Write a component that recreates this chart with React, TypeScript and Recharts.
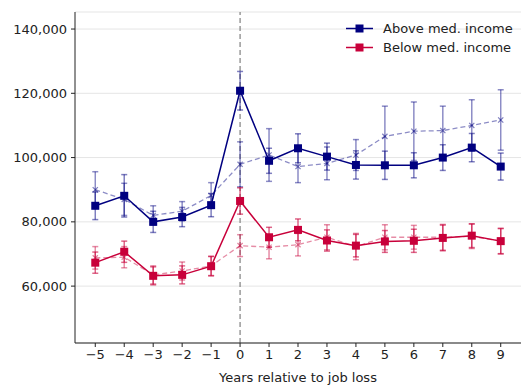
import React from 'react';
import { ComposedChart, Line, XAxis, YAxis, CartesianGrid, ReferenceLine, ErrorBar, Legend } from 'recharts';

// years around the job loss event
const years = [-5, -4, -3, -2, -1, 0, 1, 2, 3, 4, 5, 6, 7, 8, 9];

// above median income: main estimate and comparison group (dashed)
const aboveIncome = [85000, 88100, 80000, 81500, 85200, 120800, 99000, 102900, 100300, 97700, 97600, 97600, 100000, 103100, 97200];
const aboveIncomeErr = [4300, 6600, 3300, 3000, 3600, 6000, 3900, 4500, 4200, 4400, 4400, 3900, 4000, 4400, 4200];
const aboveCompare = [90000, 87000, 82000, 83300, 88200, 97900, 100800, 97200, 98200, 100800, 106600, 108200, 108400, 110000, 111700];
const aboveCompareErr = [5600, 5000, 3000, 3000, 4000, 7000, 8200, 5000, 5100, 4800, 9400, 9100, 7600, 8000, 9400];

// below median income
const belowIncome = [67300, 70700, 63200, 63500, 66200, 86500, 75200, 77500, 74200, 72600, 73900, 74100, 75000, 75700, 74000];
const belowIncomeErr = [3300, 3300, 2800, 2800, 3000, 4100, 3100, 3400, 3300, 3500, 3400, 3600, 4000, 3700, 3900];
const belowCompare = [68800, 69000, 63500, 64700, 66300, 72600, 72100, 72900, 75200, 72300, 75200, 75200, 75200, 75500, 74000];
const belowCompareErr = [3500, 3300, 2800, 2800, 3000, 3400, 3600, 3500, 3900, 4100, 3900, 3700, 4000, 3800, 4000];

const yTicks = [60000, 80000, 100000, 120000, 140000];

const NAVY = '#000080';
const CRIMSON = '#c8003a';
const FONT = '"DejaVu Sans", sans-serif';

const rows = years.map((year, i) => ({
  year,
  above: aboveIncome[i],
  aboveErr: aboveIncomeErr[i],
  aboveCmp: aboveCompare[i],
  aboveCmpErr: aboveCompareErr[i],
  below: belowIncome[i],
  belowErr: belowIncomeErr[i],
  belowCmp: belowCompare[i],
  belowCmpErr: belowCompareErr[i],
}));

const squareDot = (color: string) => (props: any) => {
  const { cx, cy, index } = props;
  if (cx == null || cy == null) return <g key={`sq-${index}`} />;
  return <rect key={`sq-${index}`} x={cx - 4} y={cy - 4} width={8} height={8} fill={color} />;
};

const crossDot = (color: string) => (props: any) => {
  const { cx, cy, index } = props;
  if (cx == null || cy == null) return <g key={`x-${index}`} />;
  const r = 2.6;
  return (
    <path
      key={`x-${index}`}
      d={`M${cx - r},${cy - r}L${cx + r},${cy + r}M${cx - r},${cy + r}L${cx + r},${cy - r}`}
      stroke={color}
      strokeOpacity={0.5}
      strokeWidth={1.2}
      fill="none"
    />
  );
};

const legendItems = [
  { label: 'Above med. income', color: NAVY },
  { label: 'Below med. income', color: CRIMSON },
];

const renderLegend = () => (
  <div style={{ fontFamily: FONT, fontSize: 13, color: '#222' }}>
    {legendItems.map((item) => (
      <div key={item.label} style={{ display: 'flex', alignItems: 'center', height: 19 }}>
        <svg width={30} height={19} style={{ marginRight: 9 }}>
          <line x1={2} y1={9.5} x2={29} y2={9.5} stroke={item.color} strokeWidth={1.5} />
          <rect x={11.5} y={5.5} width={8} height={8} fill={item.color} />
        </svg>
        <span>{item.label}</span>
      </div>
    ))}
  </div>
);

const formatYear = (v: number) => (v < 0 ? `\u2212${Math.abs(v)}` : `${v}`);

export default function App() {
  return (
    <div style={{ position: 'absolute', left: 0, top: 0 }}>
      <ComposedChart width={521} height={385} data={rows} margin={{ top: 12, right: 0, bottom: 0, left: 0 }}>
        <CartesianGrid horizontal vertical={false} stroke="#e5e5e5" />
        <XAxis
          dataKey="year"
          type="number"
          domain={[-5.7, 9.7]}
          ticks={years}
          allowDataOverflow
          height={42}
          tickFormatter={formatYear}
          tickSize={4}
          tickMargin={3}
          axisLine={{ stroke: '#222' }}
          tickLine={{ stroke: '#222' }}
          tick={{ fill: '#222', fontSize: 13, fontFamily: FONT }}
          label={{ value: 'Years relative to job loss', position: 'insideBottom', offset: 3, fill: '#222', fontSize: 13, fontFamily: FONT }}
        />
        <YAxis
          type="number"
          domain={[42300, 145300]}
          ticks={yTicks}
          allowDataOverflow
          width={75}
          tickFormatter={(v: number) => v.toLocaleString('en-US')}
          tickSize={4}
          tickMargin={4}
          axisLine={{ stroke: '#222' }}
          tickLine={{ stroke: '#222' }}
          tick={{ fill: '#222', fontSize: 13, fontFamily: FONT }}
        />
        <ReferenceLine x={0} stroke="#808080" strokeDasharray="5 3" strokeWidth={1.2} />

        <Line dataKey="aboveCmp" stroke={NAVY} strokeOpacity={0.45} strokeWidth={1.3} strokeDasharray="5 3" dot={crossDot(NAVY)} activeDot={false} isAnimationActive={false}>
          <ErrorBar dataKey="aboveCmpErr" direction="y" width={3} stroke={NAVY} strokeOpacity={0.45} strokeWidth={1.5} isAnimationActive={false} />
        </Line>
        <Line dataKey="belowCmp" stroke={CRIMSON} strokeOpacity={0.45} strokeWidth={1.3} strokeDasharray="5 3" dot={crossDot(CRIMSON)} activeDot={false} isAnimationActive={false}>
          <ErrorBar dataKey="belowCmpErr" direction="y" width={3} stroke={CRIMSON} strokeOpacity={0.45} strokeWidth={1.5} isAnimationActive={false} />
        </Line>
        <Line dataKey="above" stroke={NAVY} strokeWidth={1.5} dot={squareDot(NAVY)} activeDot={false} isAnimationActive={false}>
          <ErrorBar dataKey="aboveErr" direction="y" width={3} stroke={NAVY} strokeOpacity={0.5} strokeWidth={1.5} isAnimationActive={false} />
        </Line>
        <Line dataKey="below" stroke={CRIMSON} strokeWidth={1.5} dot={squareDot(CRIMSON)} activeDot={false} isAnimationActive={false}>
          <ErrorBar dataKey="belowErr" direction="y" width={3} stroke={CRIMSON} strokeOpacity={0.6} strokeWidth={1.5} isAnimationActive={false} />
        </Line>

        <Legend layout="vertical" align="center" verticalAlign="middle" wrapperStyle={{ top: 19, left: 344, width: 180 }} content={renderLegend} />
      </ComposedChart>
    </div>
  );
}
